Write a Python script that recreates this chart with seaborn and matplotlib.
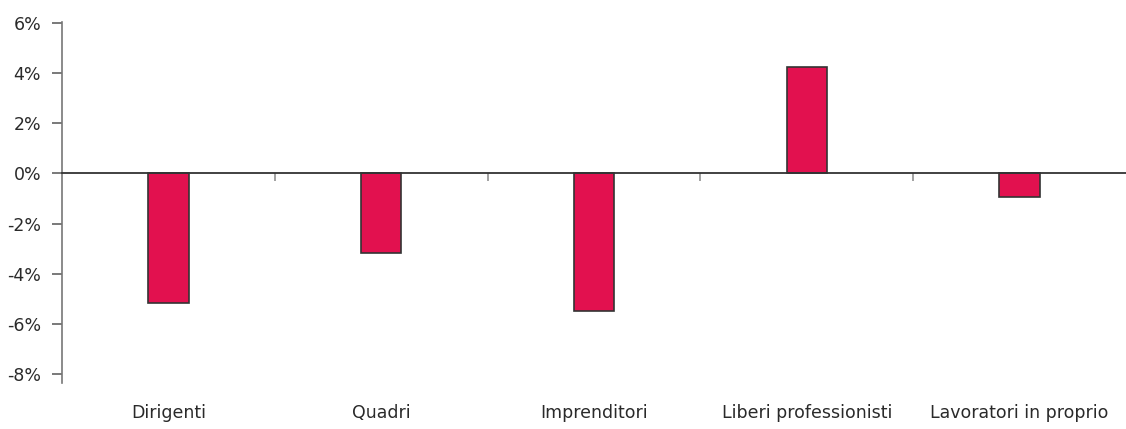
import matplotlib
matplotlib.use("Agg")
import matplotlib.pyplot as plt
import seaborn as sns
import pandas as pd
from matplotlib.ticker import FixedLocator, FuncFormatter

categories = ["Dirigenti", "Quadri", "Imprenditori", "Liberi professionisti", "Lavoratori in proprio"]
values = [-5.18, -3.18, -5.48, 4.25, -0.96]
yticks = [6, 4, 2, 0, -2, -4, -6, -8]

df = pd.DataFrame({"cat": categories, "val": values})

sns.set_theme(style="white")
plt.rcParams["font.family"] = ["DejaVu Sans"]

fig = plt.figure(figsize=(11.26, 4.29), dpi=100)
ax = fig.add_axes([0.055, 0.1072, 0.945, 0.8415])

sns.barplot(data=df, x="cat", y="val", color="#E2114F", saturation=1,
            width=0.19, edgecolor="#333333", linewidth=1.2, ax=ax)

ax.set_xlim(-0.5, len(categories) - 0.5)
ax.set_ylim(-8.36, 6.04)
ax.set_xlabel("")
ax.set_ylabel("")

ax.yaxis.set_major_locator(FixedLocator(yticks))
ax.yaxis.set_major_formatter(FuncFormatter(lambda v, p: f"{v:.0f}%"))

for s in ["top", "right"]:
    ax.spines[s].set_visible(False)
ax.spines["left"].set_color("#777777")
ax.spines["left"].set_linewidth(1.2)
ax.spines["bottom"].set_position(("data", 0))
ax.spines["bottom"].set_color("#333333")
ax.spines["bottom"].set_linewidth(1.3)

ax.tick_params(axis="y", which="major", direction="out", length=7, width=1.1,
               color="#555555", pad=8, labelsize=12.5, labelcolor="#2a2a2a", left=True)
ax.xaxis.set_minor_locator(FixedLocator([i + 0.5 for i in range(len(categories) - 1)]))
ax.tick_params(axis="x", which="minor", direction="out", length=6, width=1.1,
               color="#888888", bottom=True)
ax.tick_params(axis="x", which="major", length=0, pad=166, labelsize=12.5,
               labelcolor="#2a2a2a")

fig.savefig("out.png", dpi=100)
